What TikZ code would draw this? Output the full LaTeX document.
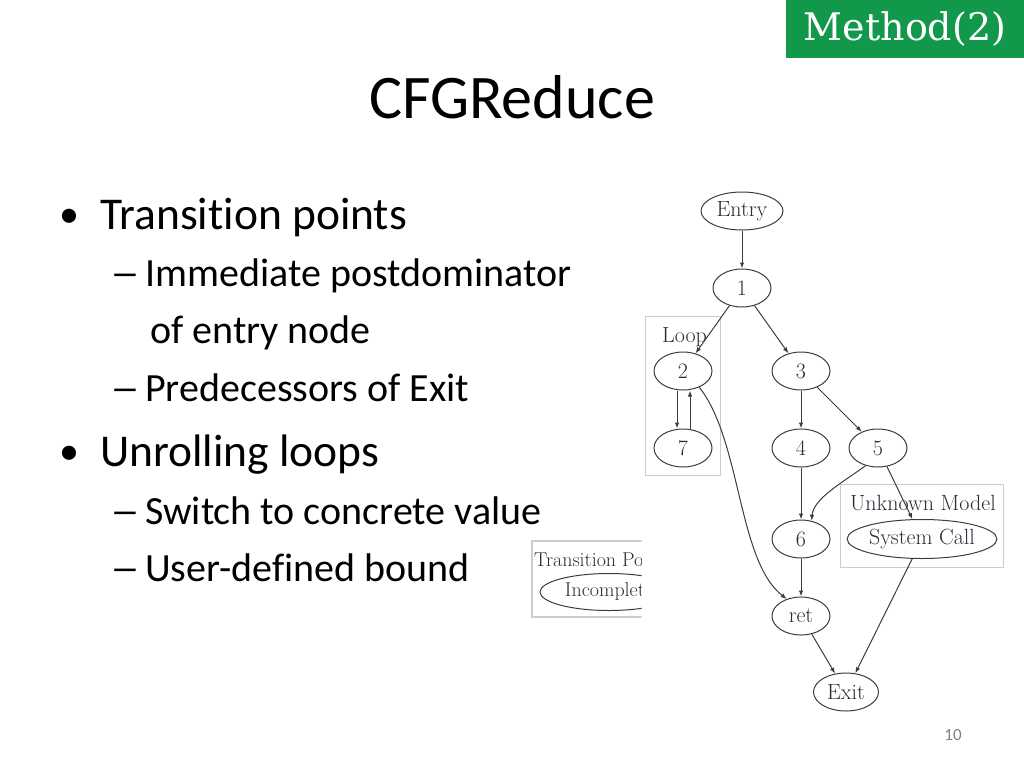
\documentclass[tikz,border=0pt]{standalone}
\usepackage{fontspec}
\usepackage{tikz}
\usetikzlibrary{arrows.meta,positioning,shapes}
\newfontfamily\slidefont[Ligatures=NoCommon]{Carlito}
\newfontfamily\tagfont{DejaVu Serif}
\definecolor{mgreen}{HTML}{12984A}
\definecolor{gline}{HTML}{3C3C3C}
\definecolor{gtext}{HTML}{2C2C38}
\definecolor{gbox}{HTML}{CDCDCD}
\newcommand{\wdash}{\scalebox{1.5}[1]{–}}

\begin{document}
\begin{tikzpicture}[
  x=1pt,y=-1pt,
  gfont/.style={font=\fontsize{22}{26}\selectfont},
  sfont/.style={font=\fontsize{20}{24}\selectfont},
  nd/.style={ellipse,draw=gline,line width=1pt,text=gtext,gfont,
             minimum width=58pt,minimum height=38pt,inner sep=0pt},
  grp/.style={draw=gbox,line width=1.3pt,inner sep=0pt},
  glbl/.style={text=gtext,gfont,anchor=base west,inner sep=0pt},
  ar/.style={-{Latex[length=6pt,width=4.5pt]},draw=gline,line width=1pt},
  ttl/.style={font=\slidefont\fontsize{62}{70}\selectfont,anchor=base,inner sep=0pt},
  dot/.style={font=\slidefont\fontsize{40}{44}\selectfont,anchor=base west,inner sep=0pt},
  lvA/.style={font=\slidefont\fontsize{45.5}{50}\selectfont,anchor=base west,inner sep=0pt},
  lvB/.style={font=\slidefont\fontsize{40}{44}\selectfont,anchor=base west,inner sep=0pt}]

\useasboundingbox (0,0) rectangle (1024,768);

% ---------------- slide header ----------------
\node[fill=mgreen,text=white,font=\tagfont\fontsize{38}{44}\selectfont,
      minimum width=238pt,minimum height=58pt,inner sep=0pt] (tag) at (905,29) {Method(2)};
\node[ttl] (title) at (512,118) {CFGReduce};

% ---------------- bullets ----------------
\node[dot] (d1) at (59,227) {•};
\node[lvA] (b1) at (100,229) {Transition points};
\node[lvB] (d2) at (110,286) {\wdash};
\node[lvB] (b2) at (145,286) {Immediate postdominator};
\node[lvB] (b3) at (150,343) {of entry node};
\node[lvB] (d4) at (110,401) {\wdash};
\node[lvB] (b4) at (145,401) {Predecessors of Exit};
\node[dot] (d5) at (59,464) {•};
\node[lvA] (b5) at (100,466) {Unrolling loops};
\node[lvB] (d6) at (110,524) {\wdash};
\node[lvB] (b6) at (145,524) {Switch to concrete value};
\node[lvB] (d7) at (110,581) {\wdash};
\node[lvB] (b7) at (145,581) {User-defined bound};

% ---------------- groups ----------------
\node[grp,minimum width=75pt,minimum height=159pt] (loopbox) at (683,396) {};
\node[glbl] (looplbl) at (662,342) {Loop};
\node[grp,minimum width=163pt,minimum height=83pt] (unkbox) at (922,526) {};
\node[glbl] (unklbl) at (850,510) {Unknown Model};
\begin{scope}
  \clip (520,530) rectangle (641.7,630);
  \node[grp,minimum width=160pt,minimum height=76pt] (tpbox) at (612,579) {};
  \node[glbl,sfont] (tplbl) at (534,566) {Transition Point};
  \node[nd,sfont,minimum width=138pt,minimum height=37pt] (incomp) at (609,592) {Incomplete};
\end{scope}

% ---------------- CFG ----------------
\node[nd,minimum width=82pt] (entry) at (742,211) {Entry};
\node[nd] (n1) at (742,288) {1};
\node[nd] (n2) at (683,371) {2};
\node[nd] (n7) at (683,448) {7};
\node[nd] (n3) at (801,371) {3};
\node[nd] (n4) at (801,448) {4};
\node[nd] (n5) at (878,448) {5};
\node[nd] (n6) at (801,539) {6};
\node[nd] (ret) at (801,616) {ret};
\node[nd,minimum width=65pt] (exit) at (846,692) {Exit};
\node[nd,minimum width=147pt,minimum height=39pt] (sys) at (922,539) {System Call};

\draw[ar] (entry) -- (n1);
\draw[ar] (n1) -- (n2);
\draw[ar] (n1) -- (n3);
\draw[ar] ([xshift=-6]n2.south) -- ([xshift=-6]n7.north);
\draw[ar] ([xshift=7]n7.north) -- ([xshift=7]n2.south);
\draw[ar] (n3) -- (n4);
\draw[ar] (n3) -- (n5);
\draw[ar] (n4) -- (n6);
\draw[ar] (n5) -- (sys);
\draw[ar] (n5.235) .. controls +(-25,18) and +(2,-22) .. (n6.60);
\draw[ar] (n2.-45) .. controls +(42,53) and +(-49,-38) .. (ret.130);
\draw[ar] (n6) -- (ret);
\draw[ar] (ret) -- (exit);
\draw[ar] (sys) -- (exit);

\node[font=\slidefont\fontsize{17}{20}\selectfont,text=gray] (pgno) at (953,735) {10};
\end{tikzpicture}
\end{document}
